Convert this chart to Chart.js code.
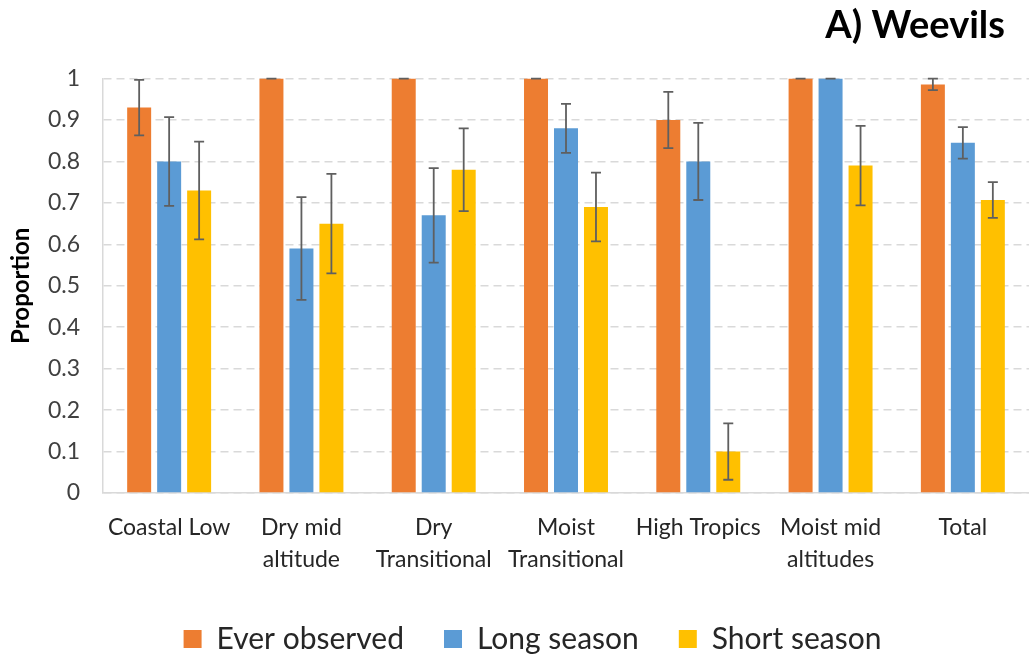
<!DOCTYPE html>
<html>
<head>
<meta charset="utf-8">
<script src="https://cdn.jsdelivr.net/npm/chart.js@4.4.1/dist/chart.umd.min.js"></script>
<style>
  html, body { margin: 0; padding: 0; background: #fff; }
  #wrap { width: 1029px; height: 657px; position: relative; }
</style>
</head>
<body>
<div id="wrap"><canvas id="weevils-chart"></canvas></div>
<script>
// Data
const categories = ['Coastal Low', ['Dry mid', 'altitude'], ['Dry', 'Transitional'], ['Moist', 'Transitional'],
    'High Tropics', ['Moist mid', 'altitudes'], 'Total'];
const everObserved = [0.93, 1, 1, 1, 0.90, 1, 0.986];
const everObservedErr = [0.067, 0, 0, 0, 0.068, 0, 0.014];
const longSeason = [0.80, 0.59, 0.67, 0.88, 0.80, 1, 0.845];
const longSeasonErr = [0.107, 0.124, 0.114, 0.059, 0.093, 0, 0.038];
const shortSeason = [0.73, 0.65, 0.78, 0.69, 0.10, 0.79, 0.707];
const shortSeasonErr = [0.118, 0.12, 0.10, 0.083, 0.068, 0.096, 0.043];
const yTickLabels = ['0', '0.1', '0.2', '0.3', '0.4', '0.5', '0.6', '0.7', '0.8', '0.9', '1'];

Chart.defaults.font.family = 'Lato, "Open Sans", sans-serif';
Chart.defaults.color = '#404040';

// draws the +/- error whiskers on top of each bar
const errorBars = {
    id: 'errorBars',
    afterDatasetsDraw(chart) {
        const ctx = chart.ctx;
        const y = chart.scales.y;
        chart.data.datasets.forEach((ds, i) => {
            const meta = chart.getDatasetMeta(i);
            meta.data.forEach((bar, j) => {
                const v = ds.data[j], e = ds.errors[j];
                const top = y.getPixelForValue(v + e);
                const bot = y.getPixelForValue(v - e);
                ctx.save();
                ctx.strokeStyle = '#5f5f5f';
                ctx.lineWidth = 1.8;
                ctx.beginPath();
                ctx.moveTo(bar.x, top); ctx.lineTo(bar.x, bot);
                ctx.moveTo(bar.x - 5, top); ctx.lineTo(bar.x + 5, top);
                ctx.moveTo(bar.x - 5, bot); ctx.lineTo(bar.x + 5, bot);
                ctx.stroke();
                ctx.restore();
            });
        });
    }
};

// nudge title and legend to where the original puts them
const nudge = {
    id: 'nudge',
    afterLayout(chart) {
        chart.titleBlock.right -= 24;
        chart.legend.left += 18;
        chart.legend.right += 18;
        chart.legend.top += 7;
        chart.legend.bottom += 7;
    }
};

const ctx = document.getElementById('weevils-chart').getContext('2d');
const weevilsChart = new Chart(ctx, {
    type: 'bar',
    data: {
        labels: categories,
        datasets: [
            { label: 'Ever observed', data: everObserved, errors: everObservedErr, backgroundColor: '#ED7D31' },
            { label: 'Long season', data: longSeason, errors: longSeasonErr, backgroundColor: '#5B9BD5' },
            { label: 'Short season', data: shortSeason, errors: shortSeasonErr, backgroundColor: '#FFC000' }
        ]
    },
    options: {
        responsive: true,
        maintainAspectRatio: false,
        animation: false,
        categoryPercentage: 0.68,
        barPercentage: 0.8,
        layout: { padding: { left: 0, right: 0, top: 0, bottom: 0 } },
        plugins: {
            title: {
                display: true,
                text: 'A) Weevils',
                align: 'end',
                color: '#000',
                font: { size: 38, weight: 'bold' },
                padding: { top: 3, bottom: 30 }
            },
            legend: {
                position: 'bottom',
                labels: {
                    boxWidth: 18,
                    boxHeight: 18,
                    padding: 40,
                    color: '#262626',
                    font: { size: 30 }
                }
            },
            tooltip: { enabled: false }
        },
        scales: {
            x: {
                grid: { display: false },
                border: { display: true, color: '#d9d9d9', width: 1.5 },
                ticks: { color: '#262626', font: { size: 23, lineHeight: 1.4 }, padding: 10, maxRotation: 0, autoSkip: false },
                afterFit(scale) { scale.height = 84; }
            },
            y: {
                min: 0,
                max: 1,
                grid: { color: '#d9d9d9', lineWidth: 1.5, drawTicks: false },
                border: { display: true, color: '#d9d9d9', width: 1.5, dash: [8, 5] },
                ticks: {
                    stepSize: 0.1,
                    padding: 23,
                    color: '#404040',
                    font: { size: 23 },
                    callback: (value, index) => yTickLabels[index]
                },
                title: {
                    display: true,
                    text: 'Proportion',
                    color: '#000',
                    font: { size: 24, weight: 'bold' },
                    padding: { top: 7, bottom: 0 }
                },
                afterFit(scale) { scale.width = 103; }
            }
        }
    },
    plugins: [errorBars, nudge]
});
</script>
</body>
</html>
